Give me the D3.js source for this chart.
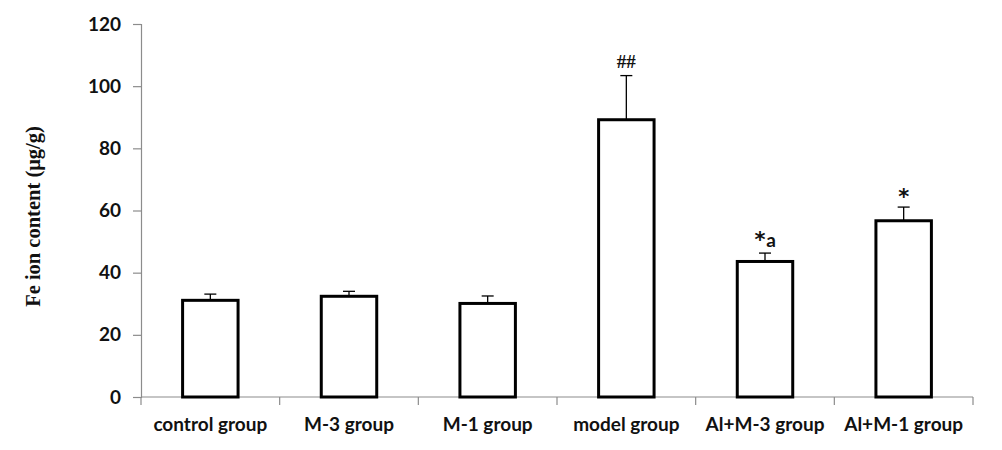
<!DOCTYPE html>
<html>
<head>
<meta charset="utf-8">
<script src="https://cdn.jsdelivr.net/npm/d3@7"></script>
<style>
  body { margin: 0; background: #fff; }
  .tick-label { font-family: Lato, "Open Sans", sans-serif; font-weight: bold; font-size: 19px; fill: #111; }
  .y-title { font-family: "Liberation Serif", "DejaVu Serif", serif; font-weight: bold; font-size: 20.5px; fill: #111; }
  .star { font-family: "DejaVu Sans", sans-serif; font-weight: bold; font-size: 21px; fill: #111; }
  .letter { font-family: Lato, "Open Sans", sans-serif; font-weight: bold; font-size: 19px; fill: #111; }
</style>
</head>
<body>
<script>
// groups, means and SD
const groups = ["control group", "M-3 group", "M-1 group", "model group", "Al+M-3 group", "Al+M-1 group"];
const means = [31.1, 32.4, 30.1, 89.2, 43.6, 56.7];
const errors = [2.0, 1.6, 2.4, 14.2, 2.7, 4.4];
const marks = ["", "", "", "##", "*a", "*"];
const yTicks = [0, 20, 40, 60, 80, 100, 120];

const width = 1002, height = 450;
const margin = {top: 24, right: 29, bottom: 53, left: 141};

const svg = d3.select("body").append("svg")
  .attr("width", width)
  .attr("height", height);

const x = d3.scaleBand()
  .domain(groups)
  .range([margin.left, width - margin.right])
  .paddingInner(0.6)
  .paddingOuter(0.3);

const y = d3.scaleLinear()
  .domain([0, 120])
  .range([height - margin.bottom, margin.top]);

const axisColor = "#8c8c8c";

// y axis
const yAxis = svg.append("g")
  .attr("transform", `translate(${margin.left},0)`)
  .call(d3.axisLeft(y).tickValues(yTicks).tickSize(8).tickPadding(12));
yAxis.select(".domain").attr("stroke", axisColor).attr("stroke-width", 1.2);
yAxis.selectAll(".tick line").attr("stroke", axisColor).attr("stroke-width", 1.2);
yAxis.selectAll(".tick text").attr("class", "tick-label").attr("font-size", null).attr("font-family", null);

// x axis, ticks sit on the band boundaries
const step = x.step();
const bounds = d3.range(groups.length + 1).map(i => margin.left + i * step);
const xg = svg.append("g");
xg.append("line")
  .attr("x1", margin.left).attr("x2", width - margin.right)
  .attr("y1", y(0)).attr("y2", y(0))
  .attr("stroke", axisColor).attr("stroke-width", 1.2);
xg.selectAll(".xt")
  .data(bounds)
  .join("line")
  .attr("x1", d => d).attr("x2", d => d)
  .attr("y1", y(0)).attr("y2", y(0) + 8)
  .attr("stroke", axisColor).attr("stroke-width", 1.2);
xg.selectAll(".xl")
  .data(groups)
  .join("text")
  .attr("class", "tick-label")
  .attr("text-anchor", "middle")
  .attr("x", d => x(d) + x.bandwidth() / 2)
  .attr("y", y(0) + 34)
  .text(d => d);

// error bars (upper only)
const eg = svg.append("g").attr("stroke", "#000").attr("stroke-width", 1.3);
groups.forEach((g, i) => {
  const cx = x(g) + x.bandwidth() / 2;
  eg.append("line")
    .attr("x1", cx).attr("x2", cx)
    .attr("y1", y(means[i])).attr("y2", y(means[i] + errors[i]));
  eg.append("line")
    .attr("x1", cx - 6).attr("x2", cx + 6)
    .attr("y1", y(means[i] + errors[i])).attr("y2", y(means[i] + errors[i]));
});

// bars
svg.append("g")
  .selectAll("rect")
  .data(groups)
  .join("rect")
  .attr("x", d => x(d))
  .attr("y", (d, i) => y(means[i]))
  .attr("width", x.bandwidth())
  .attr("height", (d, i) => y(0) - y(means[i]))
  .attr("fill", "#fff")
  .attr("stroke", "#000")
  .attr("stroke-width", 3);

// significance marks
groups.forEach((g, i) => {
  if (!marks[i]) return;
  const cx = x(g) + x.bandwidth() / 2;
  const top = y(means[i] + errors[i]);
  if (marks[i] === "*a") {
    svg.append("text").attr("class", "star")
      .attr("x", cx - 5).attr("y", top - 6).attr("text-anchor", "middle").text("*");
    svg.append("text").attr("class", "letter")
      .attr("x", cx + 6).attr("y", top - 6).attr("text-anchor", "middle").text("a");
  } else if (marks[i] === "*") {
    svg.append("text").attr("class", "star")
      .attr("x", cx).attr("y", top - 3).attr("text-anchor", "middle").text("*");
  } else {
    svg.append("text")
      .attr("x", cx).attr("y", top - 8).attr("text-anchor", "middle")
      .attr("font-family", "Liberation Serif, serif").attr("font-weight", "bold")
      .attr("font-size", 19).attr("fill", "#111").text(marks[i]);
  }
});

// y title
svg.append("text")
  .attr("class", "y-title")
  .attr("text-anchor", "middle")
  .attr("transform", `translate(40,${(y(0) + y(120)) / 2 + 6}) rotate(-90)`)
  .text("Fe ion content (μg/g)");
</script>
</body>
</html>
